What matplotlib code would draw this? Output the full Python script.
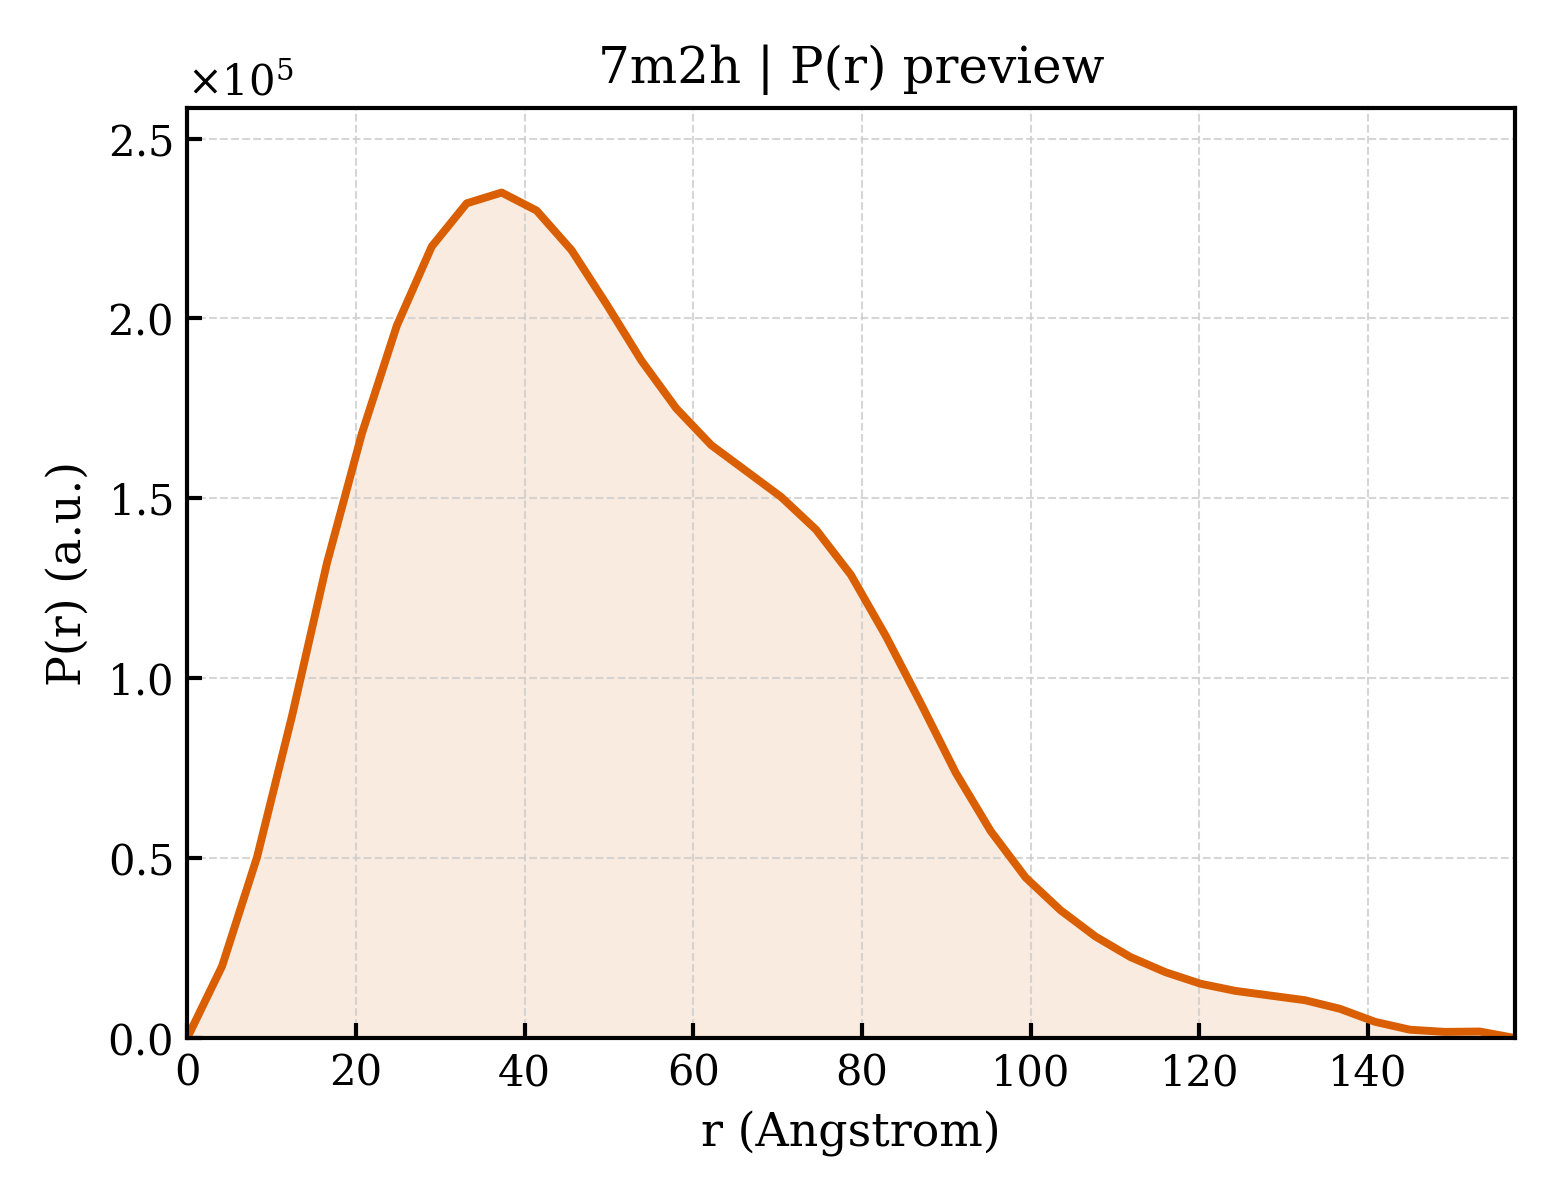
import numpy as np
import matplotlib
matplotlib.use('Agg')
from matplotlib import pyplot as plt
from matplotlib.ticker import ScalarFormatter

plt.rcParams['font.family'] = 'DejaVu Serif'
plt.rcParams['mathtext.fontset'] = 'dejavuserif'

# P(r) curve (r in Angstrom, P in units of 1e5)
dmax = 157.4
r = np.linspace(0, dmax, 39)
pr = np.array([0.0, 0.20, 0.503, 0.895, 1.32, 1.68, 1.98, 2.20, 2.32, 2.35,
               2.30, 2.19, 2.04, 1.883, 1.75, 1.648, 1.576, 1.504, 1.413, 1.287,
               1.117, 0.93, 0.737, 0.575, 0.446, 0.355, 0.282, 0.225, 0.183, 0.151,
               0.131, 0.118, 0.105, 0.081, 0.045, 0.023, 0.017, 0.018, 0.0]) * 1e5

color = '#d95f02'

fig, ax = plt.subplots(figsize=(5.2, 4), dpi=300)
fig.subplots_adjust(left=0.12, right=0.971, bottom=0.135, top=0.91)

ax.plot(r, pr, color=color, lw=1.9)
ax.fill_between(r, pr, 0, color=color, alpha=0.12, lw=0)

ax.set_xlim(0, dmax)
ax.set_ylim(0, pr.max() * 1.1)

fmt = ScalarFormatter(useMathText=True)
fmt.set_powerlimits((0, 0))
ax.yaxis.set_major_formatter(fmt)

for s in ax.spines.values():
    s.set_linewidth(1.0)
ax.tick_params(direction='in', labelsize=10, width=1.0)
ax.grid(True, ls='--', lw=0.5, color='0.8', alpha=0.8)

ax.set_xlabel('r (Angstrom)', fontsize=11)
ax.set_ylabel('P(r) (a.u.)', fontsize=11)
ax.set_title('7m2h | P(r) preview', fontsize=12)

plt.savefig('out.png')
